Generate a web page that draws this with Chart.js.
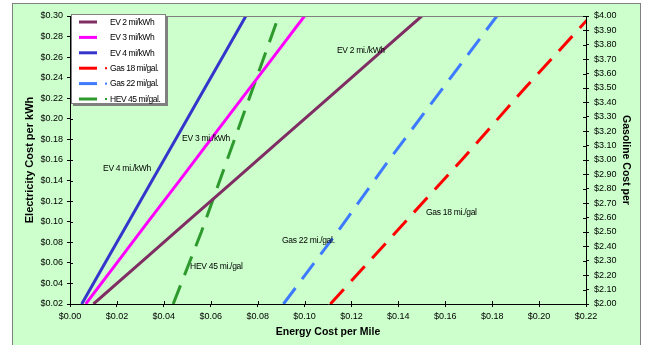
<!DOCTYPE html>
<html>
<head>
<meta charset="utf-8">
<script src="https://cdn.jsdelivr.net/npm/chart.js@4"></script>
<style>
  html, body { margin: 0; padding: 0; background: #fff; }
  #wrap { position: relative; width: 646px; height: 345px; }
</style>
</head>
<body>
<div id="wrap"><canvas id="chart" width="646" height="345"></canvas></div>
<script>
// electricity price ($/kWh) and cost per mile for each EV
const elecPrice = [0.02, 0.06, 0.10, 0.14, 0.18, 0.22, 0.26, 0.30];
const ev2Cost = [0.010, 0.030, 0.050, 0.070, 0.090, 0.110, 0.130, 0.150];
const ev3Cost = [0.0067, 0.020, 0.0333, 0.0467, 0.060, 0.0733, 0.0867, 0.100];
const ev4Cost = [0.005, 0.015, 0.025, 0.035, 0.045, 0.055, 0.065, 0.075];

// gasoline price ($/gal) and cost per mile
const gasPrice = [2.00, 2.50, 3.00, 3.50, 4.00];
const gas18Cost = [0.111, 0.139, 0.167, 0.194, 0.222];
const gas22Cost = [0.091, 0.114, 0.136, 0.159, 0.182];
const hev45Cost = [0.044, 0.056, 0.067, 0.078, 0.089];

const seriesNames = ["EV 2 mi/kWh", "EV 3 mi/kWh", "EV 4 mi/kWh", "Gas 18 mi/gal.", "Gas 22 mi/gal.", "HEV 45 mi/gal."];

// in-plot labels (x = cost per mile, y = electricity price)
const noteText = ["EV 2 mi./kWh", "EV 3 mi./kWh", "EV 4 mi./kWh", "HEV 45 mi./gal", "Gas 22 mi./gal.", "Gas 18 mi./gal"];
const noteX = [0.1138, 0.0478, 0.0141, 0.0512, 0.0904, 0.1518];
const noteY = [0.266, 0.181, 0.152, 0.056, 0.082, 0.109];

function pts(xs, ys) {
  return xs.map((x, i) => ({ x: x, y: ys[i] }));
}

const FONT = "'Liberation Sans', Arial, sans-serif";
const money = v => "$" + Number(v).toFixed(2);

const frame = {
  id: "frame",
  beforeDraw(chart) {
    const ctx = chart.ctx;
    ctx.save();
    ctx.fillStyle = "#ccffcc";
    ctx.fillRect(12, 3, 629, 345);
    ctx.strokeStyle = "#808080";
    ctx.lineWidth = 1;
    ctx.strokeRect(12.5, 3.5, 628, 345);
    ctx.restore();
  },
  afterDraw(chart) {
    const ctx = chart.ctx;
    const a = chart.chartArea;
    ctx.save();
    // top edge of plot area
    ctx.strokeStyle = "#808080";
    ctx.lineWidth = 1;
    ctx.beginPath();
    ctx.moveTo(a.left, a.top + 0.5);
    ctx.lineTo(a.right, a.top + 0.5);
    ctx.stroke();
    // inner half of the crossing tick marks
    ctx.strokeStyle = "#000";
    ctx.beginPath();
    chart.scales.y.ticks.forEach(t => {
      const p = Math.round(chart.scales.y.getPixelForValue(t.value)) + 0.5;
      ctx.moveTo(a.left, p); ctx.lineTo(a.left + 3, p);
    });
    chart.scales.y2.ticks.forEach(t => {
      const p = Math.round(chart.scales.y2.getPixelForValue(t.value)) + 0.5;
      ctx.moveTo(a.right, p); ctx.lineTo(a.right - 3, p);
    });
    chart.scales.x.ticks.forEach(t => {
      const p = Math.round(chart.scales.x.getPixelForValue(t.value)) + 0.5;
      ctx.moveTo(p, a.bottom); ctx.lineTo(p, a.bottom - 3);
    });
    ctx.stroke();

    // series notes
    ctx.fillStyle = "#000";
    ctx.font = "8.5px " + FONT;
    ctx.letterSpacing = "-0.3px";
    ctx.textBaseline = "middle";
    ctx.textAlign = "left";
    noteText.forEach((t, i) => {
      ctx.fillText(t, chart.scales.x.getPixelForValue(noteX[i]), chart.scales.y.getPixelForValue(noteY[i]));
    });

    // legend box
    const lx = 71, ly = 14, lw = 95, lh = 90;
    ctx.fillStyle = "#808080";
    ctx.fillRect(lx + 2, ly + 2, lw, lh);
    ctx.fillStyle = "#fff";
    ctx.fillRect(lx, ly, lw, lh);
    ctx.strokeStyle = "#808080";
    ctx.strokeRect(lx + 0.5, ly + 0.5, lw - 1, lh - 1);
    ctx.letterSpacing = "-0.45px";
    chart.data.datasets.forEach((ds, i) => {
      const y = ly + 8 + i * 15.4;
      ctx.strokeStyle = ds.borderColor;
      ctx.lineWidth = 3;
      ctx.setLineDash([]);
      ctx.beginPath();
      ctx.moveTo(79, y);
      ctx.lineTo(97, y);
      ctx.stroke();
      if (ds.borderDash && ds.borderDash.length) {
        ctx.fillStyle = ds.borderColor;
        ctx.fillRect(105, y - 1, 2, 2);
      }
      ctx.fillStyle = "#000";
      ctx.font = "8.5px " + FONT;
      ctx.fillText(ds.label, 110, y + 0.5);
    });
    ctx.restore();
  }
};

const lineBase = { pointRadius: 0, borderWidth: 3, tension: 0, fill: false, showLine: true };

new Chart(document.getElementById("chart"), {
  type: "line",
  plugins: [frame],
  data: {
    datasets: [
      { ...lineBase, label: seriesNames[0], data: pts(ev2Cost, elecPrice), borderColor: "#7f2d62", yAxisID: "y" },
      { ...lineBase, label: seriesNames[1], data: pts(ev3Cost, elecPrice), borderColor: "#ff00ff", yAxisID: "y" },
      { ...lineBase, label: seriesNames[2], data: pts(ev4Cost, elecPrice), borderColor: "#3535cc", yAxisID: "y" },
      { ...lineBase, label: seriesNames[3], data: pts(gas18Cost, gasPrice), borderColor: "#ff0000", borderDash: [20, 11], yAxisID: "y2" },
      { ...lineBase, label: seriesNames[4], data: pts(gas22Cost, gasPrice), borderColor: "#3d7aff", borderDash: [20, 11], yAxisID: "y2" },
      { ...lineBase, label: seriesNames[5], data: pts(hev45Cost, gasPrice), borderColor: "#2e9a2e", borderDash: [20, 11], yAxisID: "y2" }
    ]
  },
  options: {
    responsive: false,
    animation: false,
    events: [],
    layout: { padding: { top: 16 } },
    plugins: { legend: { display: false }, tooltip: { enabled: false } },
    scales: {
      x: {
        type: "linear",
        min: 0, max: 0.22,
        afterFit: s => { s.height = 41; },
        grid: { drawOnChartArea: false, tickLength: 3, color: "#000" },
        border: { color: "#000" },
        ticks: { stepSize: 0.02, padding: 4, color: "#000", font: { family: FONT, size: 9 }, callback: money },
        title: { display: true, text: "Energy Cost per Mile", color: "#000", font: { family: FONT, size: 10.5, weight: "bold" }, padding: { top: 0, bottom: 7 } }
      },
      y: {
        type: "linear",
        position: "left",
        min: 0.02, max: 0.30,
        afterFit: s => { s.width = 70; },
        grid: { drawOnChartArea: false, tickLength: 3, color: "#000" },
        border: { color: "#000" },
        ticks: { stepSize: 0.02, padding: 4, color: "#000", autoSkip: false, font: { family: FONT, size: 9 }, callback: money },
        title: { display: true, text: "Electricity Cost per kWh", color: "#000", font: { family: FONT, size: 11, weight: "bold" }, padding: { top: 23, bottom: 0 } }
      },
      y2: {
        type: "linear",
        position: "right",
        min: 2.0, max: 4.0,
        afterFit: s => { s.width = 60; },
        grid: { drawOnChartArea: false, tickLength: 3, color: "#000" },
        border: { color: "#000" },
        ticks: { stepSize: 0.1, padding: 5, color: "#000", autoSkip: false, font: { family: FONT, size: 9 }, callback: money },
        title: { display: true, text: "Gasoline Cost per", color: "#000", font: { family: FONT, size: 10.5, weight: "bold" }, padding: { top: 14, bottom: 0 } }
      }
    }
  }
});
</script>
</body>
</html>
